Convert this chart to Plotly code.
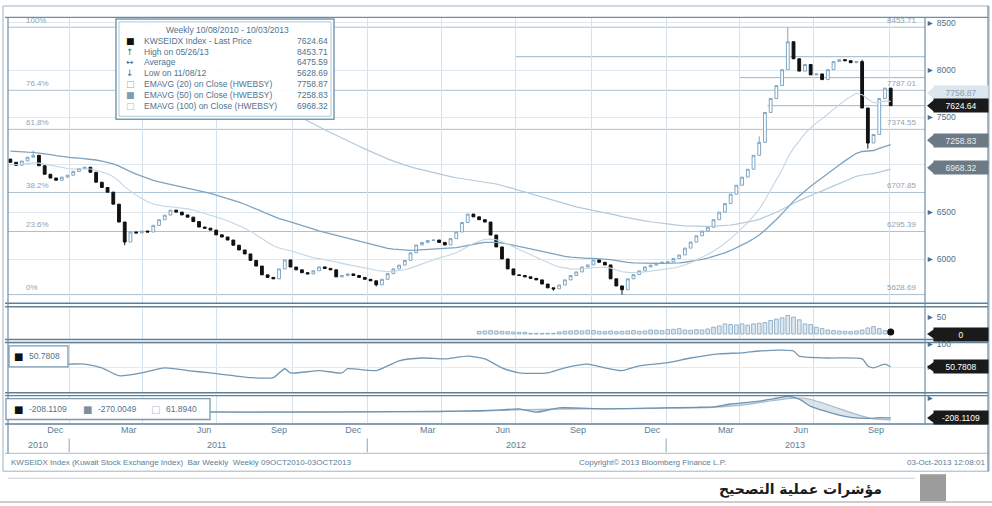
import plotly.graph_objects as go
import pandas as pd

W, H = 992, 506
def PX(x): return x / W
def PY(y): return 1 - y / H

# ---------------- data ----------------
start_date = "2010-10-21"
closes = [
    7026, 6995, 7040, 7080, 7100, 6990, 6900, 6860, 6837, 6870,
    6890, 6930, 6960, 6974, 6921, 6816, 6760, 6711, 6584, 6395,
    6184, 6290, 6280, 6300, 6290, 6360, 6420, 6468, 6521, 6500,
    6470, 6447, 6400, 6342, 6330, 6310, 6260, 6237, 6205, 6150,
    6100, 6058, 5990, 5930, 5837, 5810, 5795, 5900, 5995, 5920,
    5890, 5860, 5847, 5880, 5921, 5905, 5890, 5816, 5830, 5847,
    5830, 5810, 5790, 5774, 5732, 5790, 5850, 5900, 5940, 5990,
    6070, 6153, 6180, 6200, 6205, 6180, 6153, 6220, 6290, 6390,
    6479, 6450, 6420, 6395, 6258, 6132, 6005, 5900, 5837, 5830,
    5816, 5800, 5784, 5740, 5700, 5689, 5730, 5784, 5830, 5868,
    5920, 5942, 5995, 5970, 5942, 5795, 5720, 5680, 5795, 5840,
    5880, 5921, 5940, 5960, 5970, 5974, 6010, 6047, 6120, 6184,
    6250, 6300, 6340, 6420, 6500, 6590, 6690, 6784, 6870, 6953,
    7100, 7237, 7553, 7700, 7837, 8005, 8300, 8120, 7990, 8060,
    7950, 7960, 7900, 8005, 8090, 8111, 8100, 8079, 8090, 7600,
    7230, 7320, 7700, 7810, 7624.64,
]
first_open = 7060
wick_high = {4: 7150, 131: 7300, 136: 8453.71, 149: 8110}
wick_low = {20: 6150, 64: 5715, 95: 5670, 107: 5628.69, 150: 7170}

ema_seed = {20: 7000, 50: 7150, 100: 9600}

vol_start = 82
volume = [8, 9, 10, 9, 8, 7, 6, 5, 5, 2, 2, 2, 2, 2, 6, 8, 9, 10, 9,
          11, 10, 8, 7, 9, 7, 8, 9, 10, 8, 9, 12, 11, 10, 13, 14, 16, 12, 11, 13,
          12, 15, 20, 24, 30, 28, 27, 30, 26, 30, 32, 34, 40, 44, 48,
          55, 50, 42, 30, 28, 20, 16, 12, 10, 9, 8, 7, 9, 12, 18, 22, 16, 10, 6]

rsi_k = [0, 5, 10, 13, 16, 19, 23, 27, 31, 35, 39, 42, 46, 48, 49, 54, 58, 59, 64, 68,
         72, 76, 80, 83, 86, 89, 94, 97, 101, 104, 107, 110, 115, 119, 124, 128, 131,
         135, 137, 138, 143, 149, 150, 151, 153, 154]
rsi_vals = [62, 60, 57, 57, 49, 32, 38, 49, 43, 38, 32, 28, 28, 47, 38, 43, 38, 47, 43, 64,
            70, 68, 74, 68, 49, 38, 38, 49, 57, 49, 43, 53, 60, 70, 79, 81, 85,
            87, 85, 74, 70, 68, 53, 49, 57, 50.78]

macd_k = [0, 20, 40, 60, 75, 82, 86, 89, 92, 96, 104, 114, 120, 123, 126, 131, 134, 136,
          138, 140, 142, 144, 147, 150, 152, 154]
macd_vals = [-20, -10, -30, -20, -10, 14, 40, 73, -30, 103, 73, 103, 120, 133, 222, 311, 400, 460,
             370, 150, 30, -75, -194, -224, -200, -208.11]
sig_k = [0, 40, 60, 82, 90, 100, 114, 123, 128, 132, 136, 139, 142, 145, 148, 151, 154]
sig_vals = [-20, -25, -20, 5, 50, 70, 90, 120, 190, 290, 390, 400, 260, 80, -100, -240, -270.0]

fib_pcts = [1.0, 0.764, 0.618, 0.382, 0.236, 0.0]
fib_names = ["100%", "76.4%", "61.8%", "38.2%", "23.6%", "0%"]
fib_high, fib_low = 8453.71, 5628.69

ref_levels = [(8142, "2012-07-01"), (7921, "2013-04-01"), (7624.64, "2013-05-05")]

month_ticks = ["2010-12-15", "2011-03-15", "2011-06-15", "2011-09-15", "2011-12-15",
               "2012-03-15", "2012-06-15", "2012-09-15", "2012-12-15", "2013-03-15",
               "2013-06-15", "2013-09-15"]
month_text = ["Dec", "Mar", "Jun", "Sep"] * 3
year_pos = ["2010-11-24", "2011-07-01", "2012-07-01", "2013-06-08"]
year_text = ["2010", "2011", "2012", "2013"]
year_bounds = ["2011-01-01", "2012-01-01", "2013-01-01"]
quarter_grid = ["2011-01-01", "2011-04-01", "2011-07-01", "2011-10-01", "2012-01-01",
                "2012-04-01", "2012-07-01", "2012-10-01", "2013-01-01", "2013-04-01",
                "2013-07-01", "2013-10-01"]

legend_rows = [
    ("■", "#111111", "KWSEIDX Index - Last Price", "7624.64"),
    ("↑", "#4a6f8c", "High on 05/26/13", "8453.71"),
    ("↔", "#4a6f8c", "Average", "6475.59"),
    ("↓", "#4a6f8c", "Low on 11/08/12", "5628.69"),
    ("□", "#8fb0c8", "EMAVG (20) on Close (HWEBSY)", "7758.87"),
    ("■", "#7f9cb3", "EMAVG (50) on Close (HWEBSY)", "7258.83"),
    ("□", "#a9c2d4", "EMAVG (100) on Close (HWEBSY)", "6968.32"),
]

# ---------------- derived ----------------
weeks = pd.date_range(start_date, periods=len(closes), freq="7D")
opens = [first_open] + closes[:-1]
highs = [max(o, c) for o, c in zip(opens, closes)]
lows = [min(o, c) for o, c in zip(opens, closes)]
for k, v in wick_high.items():
    highs[k] = v
for k, v in wick_low.items():
    lows[k] = v

def ema(vals, span, seed):
    a = 2.0 / (span + 1)
    e = seed
    out = []
    for v in vals:
        e = a * v + (1 - a) * e
        out.append(e)
    return out

ema20 = ema(closes, 20, ema_seed[20])
ema50 = ema(closes, 50, ema_seed[50])
ema100 = ema(closes, 100, ema_seed[100])

X0, X1 = "2010-10-18 02:00", "2013-11-14"
FONT = "Liberation Sans"
BLUE_TXT = "#4f7390"

fig = go.Figure()

fig.add_trace(go.Scatter(x=weeks, y=ema100, mode="lines", line=dict(color="#b3cadb", width=1.2),
                         xaxis="x", yaxis="y", hoverinfo="skip"))
fig.add_trace(go.Scatter(x=weeks, y=ema50, mode="lines", line=dict(color="#7ea3c0", width=1.3),
                         xaxis="x", yaxis="y", hoverinfo="skip"))
fig.add_trace(go.Scatter(x=weeks, y=ema20, mode="lines", line=dict(color="#c3d6e4", width=1.1),
                         xaxis="x", yaxis="y", hoverinfo="skip"))
fig.add_trace(go.Candlestick(
    x=weeks, open=opens, high=highs, low=lows, close=closes, xaxis="x", yaxis="y",
    increasing=dict(line=dict(color="#7ea6c4", width=1), fillcolor="#ffffff"),
    decreasing=dict(line=dict(color="#111111", width=1), fillcolor="#111111"),
    whiskerwidth=0, hoverinfo="skip"))

vx = weeks[vol_start:vol_start + len(volume)]
fig.add_trace(go.Bar(x=vx, y=volume, xaxis="x", yaxis="y2",
                     marker=dict(color="#dde8f1", line=dict(color="#7fa3bf", width=0.8)),
                     hoverinfo="skip"))
fig.add_trace(go.Scatter(x=[vx[-1]], y=[volume[-1]], mode="markers", xaxis="x", yaxis="y2",
                         marker=dict(color="#111111", size=7), hoverinfo="skip"))

fig.add_trace(go.Scatter(x=[weeks[k] for k in rsi_k], y=rsi_vals, mode="lines", xaxis="x", yaxis="y3",
                         line=dict(color="#7298b5", width=1.3, shape="spline", smoothing=0.6),
                         hoverinfo="skip"))

fig.add_trace(go.Scatter(x=[weeks[k] for k in sig_k], y=sig_vals, mode="lines", xaxis="x", yaxis="y4",
                         line=dict(color="#a4bccd", width=1.2, shape="spline", smoothing=0.6),
                         hoverinfo="skip"))
fig.add_trace(go.Scatter(x=[weeks[k] for k in macd_k], y=macd_vals, mode="lines", xaxis="x", yaxis="y4",
                         line=dict(color="#6f93b0", width=1.3, shape="spline", smoothing=0.6),
                         fill="tonexty", fillcolor="rgba(190,205,216,0.55)", hoverinfo="skip"))

shapes = []
ann = []

def A(**kw):
    d = dict(showarrow=False, xanchor="center", yanchor="middle")
    d.update(kw)
    ann.append(d)

for p, name in zip(fib_pcts, fib_names):
    lvl = fib_low + p * (fib_high - fib_low)
    shapes.append(dict(type="line", xref="x", yref="y", x0=X0, x1=X1, y0=lvl, y1=lvl,
                       line=dict(color="#a9c1d3", width=1), layer="below"))
    A(xref="paper", yref="y", x=PX(24), y=lvl, yshift=7, text=name, xanchor="left",
      font=dict(family=FONT, size=8, color="#8ea4b4"))
    A(xref="paper", yref="y", x=PX(918), y=lvl, yshift=7, text=f"{lvl:.2f}", xanchor="right",
      font=dict(family=FONT, size=8, color="#8ea4b4"))
for lvl, d0 in ref_levels:
    shapes.append(dict(type="line", xref="x", yref="y", x0=d0, x1=X1, y0=lvl, y1=lvl,
                       line=dict(color="#9cb6c9", width=1), layer="below"))

def hline(y, x0=5, x1=988, color="#6f8ea5", w=1.2):
    shapes.append(dict(type="line", xref="paper", yref="paper", x0=PX(x0), x1=PX(x1),
                       y0=PY(y), y1=PY(y), line=dict(color=color, width=w)))
def vline(x, y0, y1, color="#6f8ea5", w=1.2):
    shapes.append(dict(type="line", xref="paper", yref="paper", x0=PX(x), x1=PX(x),
                       y0=PY(y0), y1=PY(y1), line=dict(color=color, width=w)))

shapes.append(dict(type="rect", xref="paper", yref="paper", x0=PX(3), x1=PX(989), y0=PY(471), y1=PY(3),
                   line=dict(color="#9db4c6", width=1)))
hline(14.5)
for y in (302, 305.5):
    hline(y, color="#5f7f96", w=1.6)
for y in (338.5, 341.5):
    hline(y, color="#5f7f96", w=1.4)
for y in (392, 395):
    hline(y, color="#5f7f96", w=1.4)
hline(423.5, color="#5f7f96", w=1.4)
hline(453, color="#a8bccb", w=1)
vline(8, 14.5, 453)
vline(925, 14.5, 423.5)
vline(988, 3, 471)
for d in year_bounds:
    shapes.append(dict(type="line", xref="x", yref="paper", x0=d, x1=d, y0=PY(452), y1=PY(438),
                       line=dict(color="#8aa6ba", width=1)))

shapes.append(dict(type="rect", xref="paper", yref="paper", x0=PX(116), x1=PX(334), y0=PY(117), y1=PY(16),
                   line=dict(color="#7b9ab0", width=1.5), fillcolor="rgba(255,255,255,0.92)"))
shapes.append(dict(type="rect", xref="paper", yref="paper", x0=PX(119), x1=PX(331), y0=PY(114), y1=PY(19),
                   line=dict(color="#b4c8d6", width=1)))
A(xref="paper", yref="paper", x=PX(227), y=PY(27), text="Weekly 10/08/2010 - 10/03/2013",
  font=dict(family=FONT, size=8.5, color=BLUE_TXT))
for i, (ic, icc, lab, val) in enumerate(legend_rows):
    yy = PY(38 + i * 10.9)
    A(xref="paper", yref="paper", x=PX(130), y=yy, text=ic,
      font=dict(family="DejaVu Sans", size=9, color=icc))
    A(xref="paper", yref="paper", x=PX(142), y=yy, text=lab, xanchor="left",
      font=dict(family=FONT, size=8.5, color=BLUE_TXT))
    A(xref="paper", yref="paper", x=PX(330), y=yy, text=val, xanchor="right",
      font=dict(family=FONT, size=8.5, color=BLUE_TXT))

shapes.append(dict(type="rect", xref="paper", yref="paper", x0=PX(9), x1=PX(68), y0=PY(366), y1=PY(345),
                   line=dict(color="#7b9ab0", width=1.3), fillcolor="white"))
A(xref="paper", yref="paper", x=PX(18), y=PY(355.5), text="■",
  font=dict(family="DejaVu Sans", size=10, color="#111"))
A(xref="paper", yref="paper", x=PX(27), y=PY(355.5), text="50.7808", xanchor="left",
  font=dict(family=FONT, size=8.5, color=BLUE_TXT))
shapes.append(dict(type="rect", xref="paper", yref="paper", x0=PX(6), x1=PX(210), y0=PY(419), y1=PY(398),
                   line=dict(color="#7b9ab0", width=1.3), fillcolor="white"))
for xi, ic, icc, txt in [(18, "■", "#111", "-208.1109"), (87, "■", "#7f8f9c", "-270.0049"),
                         (155, "□", "#a9c2d4", "61.8940")]:
    A(xref="paper", yref="paper", x=PX(xi), y=PY(408.5), text=ic,
      font=dict(family="DejaVu Sans", size=10, color=icc))
    A(xref="paper", yref="paper", x=PX(xi + 9), y=PY(408.5), text=txt, xanchor="left",
      font=dict(family=FONT, size=8.5, color=BLUE_TXT))

def tag(yref, val, text, bg, fg, dy):
    shapes.append(dict(type="path", xref="paper", yref=yref,
                       path=f"M {PX(927)},{val} L {PX(934)},{val + dy} L {PX(934)},{val - dy} Z",
                       fillcolor=bg, line=dict(color=bg, width=0)))
    A(xref="paper", yref=yref, x=PX(933), y=val, text=text, xanchor="left",
      width=52, height=11, bgcolor=bg, borderpad=1, align="center",
      font=dict(family=FONT, size=8.5, color=fg))

tag("y", 7758.87, "7758.87", "#dce6ee", "#8aa0b2", 63)
tag("y", closes[-1], f"{closes[-1]:.2f}", "#1a1a1a", "#ffffff", 63)
tag("y", 7258.83, "7258.83", "#6c7a86", "#e8eef3", 63)
tag("y", 6968.32, "6968.32", "#6c7a86", "#e8eef3", 63)
tag("y2", 0, "0", "#1a1a1a", "#ffffff", 14)
tag("y3", 50.78, "50.7808", "#1a1a1a", "#ffffff", 11)
tag("y4", -208.11, "-208.1109", "#1a1a1a", "#ffffff", 160)

for d, t in zip(year_pos, year_text):
    A(xref="x", yref="paper", x=d, y=PY(445), text=t,
      font=dict(family=FONT, size=9, color="#5b7d96"))

A(xref="paper", yref="paper", x=PX(9), y=PY(462), xanchor="left",
  text="KWSEIDX Index (Kuwait Stock Exchange Index)  Bar Weekly  Weekly 09OCT2010-03OCT2013",
  font=dict(family=FONT, size=8, color="#5b7d96"))
A(xref="paper", yref="paper", x=PX(652), y=PY(462),
  text="Copyright© 2013 Bloomberg Finance L.P.", font=dict(family=FONT, size=8, color="#5b7d96"))
A(xref="paper", yref="paper", x=PX(987), y=PY(462), xanchor="right",
  text="03-Oct-2013 12:08:01", font=dict(family=FONT, size=8, color="#5b7d96"))

hline(478, 8, 915, color="#cccccc", w=1)
hline(502, 0, 992, color="#9a9a9a", w=1.2)
shapes.append(dict(type="rect", xref="paper", yref="paper", x0=PX(920), x1=PX(946), y0=PY(501), y1=PY(474),
                   line=dict(width=0), fillcolor="#9c9c9c"))
A(xref="paper", yref="paper", x=PX(884), y=PY(489), xanchor="right",
  text="<b>مؤشرات عملية التصحيح</b>", font=dict(family="DejaVu Sans", size=14, color="#1a1a1a"))

axis_font = dict(family=FONT, size=8.5, color="#4f6f86")
fig.update_layout(
    width=W, height=H, margin=dict(l=0, r=0, t=0, b=0),
    paper_bgcolor="white", plot_bgcolor="white", showlegend=False,
    bargap=0.35,
    xaxis=dict(domain=[PX(8), PX(925)], range=[X0, X1], anchor="y4", type="date",
               tickmode="array", tickvals=month_ticks, ticktext=month_text, ticks="",
               tickfont=dict(family=FONT, size=9, color="#5b7d96"), showgrid=False,
               minor=dict(tickmode="array", tickvals=quarter_grid, showgrid=True,
                          gridcolor="#d3e2ec", gridwidth=1, ticks=""),
               zeroline=False, showline=False, rangeslider=dict(visible=False)),
    yaxis=dict(domain=[PY(303), PY(15)], range=[5527, 8552], side="right", anchor="x",
               tickmode="array", tickvals=[6000, 6500, 7000, 7500, 8000, 8500],
               ticktext=["► 6000", "► 6500", "", "► 7500", "► 8000", "► 8500"],
               tickfont=axis_font, showgrid=True, gridcolor="#dde8f0", zeroline=False, ticks=""),
    yaxis2=dict(domain=[PY(338), PY(307)], range=[-14.7, 76.5], side="right", anchor="x",
                tickmode="array", tickvals=[50], ticktext=["► 50"], tickfont=axis_font,
                showgrid=False, zeroline=False, ticks=""),
    yaxis3=dict(domain=[PY(392), PY(341)], range=[-4.3, 104.3], side="right", anchor="x",
                tickmode="array", tickvals=[100, 50], ticktext=["► 100", "► 50"],
                tickfont=axis_font, showgrid=True, gridcolor="#e2ebf2", zeroline=False, ticks=""),
    yaxis4=dict(domain=[PY(423), PY(395)], range=[-380, 480], side="right", anchor="x",
                tickmode="array", tickvals=[400], ticktext=["►"], tickfont=axis_font,
                showgrid=False, zeroline=False, ticks=""),
    shapes=shapes, annotations=ann,
)

fig.write_html("out.html", config={"responsive": False, "displayModeBar": False},
               post_script="document.body.style.margin='0';document.body.style.overflow='hidden';")
